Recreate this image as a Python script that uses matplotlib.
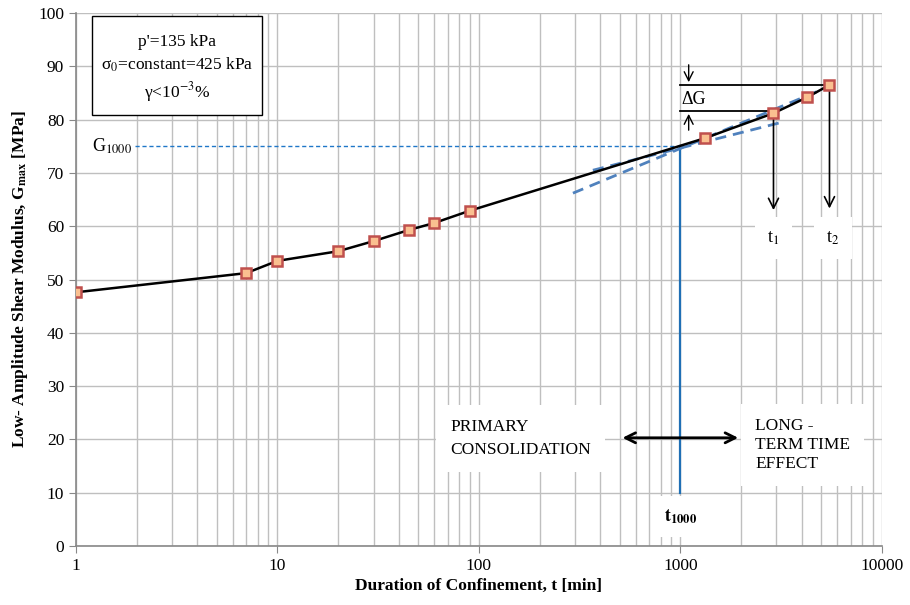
import numpy as np
import matplotlib.pyplot as plt
from matplotlib.patches import Rectangle
from matplotlib.ticker import LogLocator, NullFormatter, FixedLocator

plt.rcParams['font.family'] = ['Liberation Serif', 'DejaVu Serif']
plt.rcParams['mathtext.fontset'] = 'stix'

# Datos
t_min = [1, 7, 10, 20, 30, 45, 60, 90, 1320, 2900, 4270, 5500]
g_max = [47.6, 51.2, 53.5, 55.3, 57.2, 59.3, 60.6, 62.9, 76.5, 81.2, 84.2, 86.5]

# tangentes (azul, discontinuas)
tan1_t = [293, 5400]
tan1_g = [66.2, 86.1]
tan2_t = [368, 3190]
tan2_g = [70.5, 79.5]

t1000 = 1000
g1000 = 75
t1, g1 = 2900, 81.2
t2, g2 = 5500, 86.5

fig = plt.figure(figsize=(9.1, 6.05), dpi=100)
ax = fig.add_axes([0.0835, 0.0975, 0.8855, 0.881])

ax.set_xscale('log')
ax.set_xlim(1, 10000)
ax.set_ylim(0, 100)
ax.set_yticks(np.arange(0, 101, 10))
ax.xaxis.set_major_locator(FixedLocator([1, 10, 100, 1000, 10000]))
ax.set_xticklabels(['1', '10', '100', '1000', '10000'])
ax.xaxis.set_minor_locator(LogLocator(base=10, subs=np.arange(2, 10)))
ax.xaxis.set_minor_formatter(NullFormatter())
ax.grid(True, which='both', axis='x', color='#BFBFBF', lw=1, zorder=0)
ax.grid(True, which='major', axis='y', color='#BFBFBF', lw=1, zorder=0)
ax.tick_params(axis='both', which='major', direction='out', length=5, color='#888888', labelsize=12.5)
ax.tick_params(axis='x', which='minor', length=0)
for s in ['top', 'right']:
    ax.spines[s].set_visible(False)
for s in ['left', 'bottom']:
    ax.spines[s].set_color('#888888')
    ax.spines[s].set_linewidth(1.2)

# lineas de referencia
ax.plot([1.96, t1000], [g1000, g1000], color='#1F77C8', ls=(0, (3, 2)), lw=1, zorder=2)
ax.plot([t1000, t1000], [10, g1000], color='#1F6FB5', lw=1.6, zorder=2)
ax.plot(tan1_t, tan1_g, color='#4F81BD', ls=(0, (4, 2.5)), lw=2, zorder=3)
ax.plot(tan2_t, tan2_g, color='#4F81BD', ls=(0, (4, 2.5)), lw=2, zorder=3)

# curva
ax.plot(t_min, g_max, color='black', lw=1.8, zorder=4,
        marker='s', ms=7.5, mfc='#FAC090', mec='#C0504D', mew=1.8)

# Delta G
ax.plot([t1000, t2], [g2, g2], color='black', lw=1.3, zorder=3)
ax.plot([t1000, t1], [81.6, 81.6], color='black', lw=1.3, zorder=3)
ax.annotate('', xy=(1100, g2), xytext=(1100, 90.8),
            arrowprops=dict(arrowstyle='->', lw=1, color='black', mutation_scale=16))
ax.annotate('', xy=(1100, 81.6), xytext=(1100, 77.5),
            arrowprops=dict(arrowstyle='->', lw=1, color='black', mutation_scale=16))
ax.text(1010, 83.8, 'ΔG', fontsize=13, ha='left', va='center')

# flechas t1, t2
ax.annotate('', xy=(t1, 62.5), xytext=(t1, g1),
            arrowprops=dict(arrowstyle='->', lw=1.2, color='black', mutation_scale=18))
ax.annotate('', xy=(t2, 62.8), xytext=(t2, g2),
            arrowprops=dict(arrowstyle='->', lw=1.2, color='black', mutation_scale=18))
wbox = dict(facecolor='white', edgecolor='none', pad=9)
ax.text(t1, 57.8, 't$_1$', fontsize=13, ha='center', va='center', bbox=wbox, zorder=5)
ax.text(t2 * 1.04, 57.8, 't$_2$', fontsize=13, ha='center', va='center', bbox=wbox, zorder=5)

# etiqueta G1000
ax.text(1.2, g1000, 'G$_{1000}$', fontsize=13, ha='left', va='center')

# zonas
ax.annotate('', xy=(500, 20.3), xytext=(2000, 20.3),
            arrowprops=dict(arrowstyle='<->', lw=2, color='black', mutation_scale=18), zorder=4)
ax.text(72, 20.2, 'PRIMARY\nCONSOLIDATION', fontsize=12.5, ha='left', va='center',
        linespacing=1.55, bbox=dict(facecolor='white', edgecolor='none', pad=10), zorder=5)
ax.text(2350, 18.9, 'LONG -\nTERM TIME\nEFFECT', fontsize=12.5, ha='left', va='center',
        linespacing=1.25, bbox=dict(facecolor='white', edgecolor='none', pad=10), zorder=5)
ax.text(t1000, 5.6, r'$\mathbf{t_{1000}}$', fontsize=13, ha='center', va='center',
        bbox=dict(facecolor='white', edgecolor='none', pad=8), zorder=5)

# caja de condiciones
ax.add_patch(Rectangle((0.02, 0.809), 0.211, 0.185, transform=ax.transAxes,
                       facecolor='white', edgecolor='black', lw=1, zorder=5))
ax.text(0.1255, 0.895, "p'=135 kPa\nσ$_0$=constant=425 kPa\nγ<10$^{\\mathrm{-3}}$%",
        transform=ax.transAxes, fontsize=12.5, ha='center', va='center', linespacing=1.35, zorder=6)

ax.set_xlabel('Duration of Confinement, t [min]', fontsize=12.5, fontweight='bold', labelpad=3)
ax.set_ylabel(r'Low- Amplitude Shear Modulus, G$_{\mathbf{max}}$ [MPa]', fontsize=12.5,
              fontweight='bold', labelpad=6)

fig.savefig('out.png', dpi=100)
